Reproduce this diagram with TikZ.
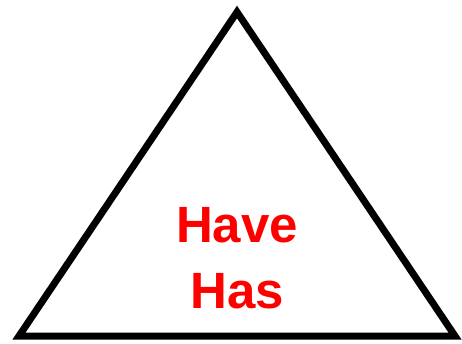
\documentclass[tikz,border=0pt]{standalone}
\usepackage{fontspec}
\setmainfont{Liberation Sans}
\usepackage{xcolor}
\definecolor{rojo}{RGB}{255,0,0}
\definecolor{negro}{RGB}{0,0,0}

\begin{document}
\begin{tikzpicture}[x=1pt,y=-1pt]
    \useasboundingbox (0,0) rectangle (462,343);
    \coordinate (cima) at (237,12);
    \coordinate (izq) at (19,336);
    \coordinate (der) at (455,336);
    \draw[negro, line width=7pt, line join=miter] (cima) -- (der) -- (izq) -- cycle;
    \node[align=center, text=rojo, inner sep=0pt,
          font=\fontsize{51}{66}\selectfont\bfseries] (verbos) at (237,258) {Have\\Has};
  \end{tikzpicture}
\end{document}
